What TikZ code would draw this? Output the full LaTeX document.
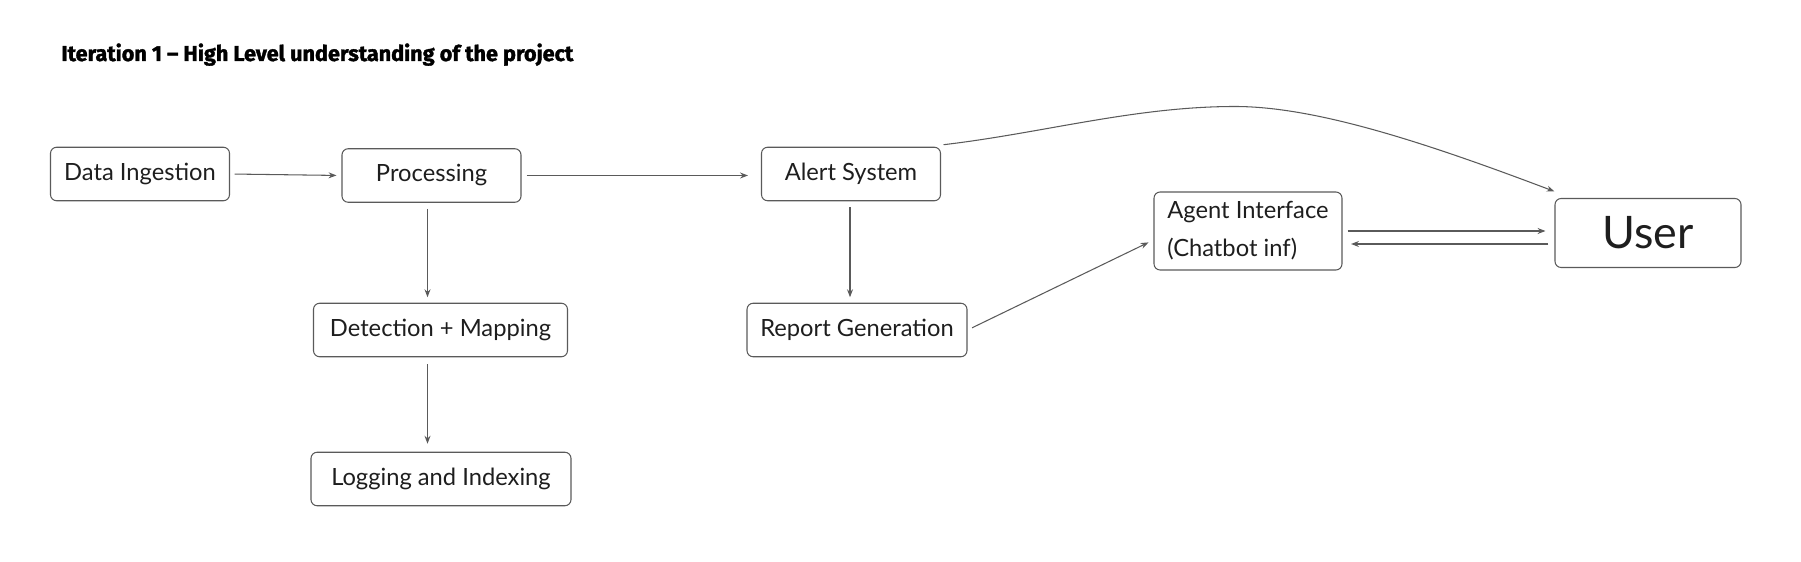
\documentclass[tikz,border=0pt]{standalone}
\usepackage{fontspec}
\setmainfont{Lato}
\newfontfamily\titlefont{Fira Sans}[BoldFeatures={FakeBold=1.6}]
\usepackage{tikz}
\usetikzlibrary{arrows.meta, calc}

\definecolor{inkgray}{HTML}{1E1E1E}
\definecolor{edgegray}{HTML}{5A5A5A}

\begin{document}
\begin{tikzpicture}[
    box/.style={rectangle, draw=edgegray, line width=0.6pt, rounded corners=3.5pt, minimum height=1.07cm, text=inkgray, font=\fontsize{13.5}{18}\selectfont},
    link/.style={-{Stealth[length=4.5pt, width=3.4pt]}, draw=edgegray, line width=0.6pt}
]
    \useasboundingbox (0,0) rectangle (36.02,-11.24);

    % title
    \node[anchor=base west, inner sep=0pt, text=black, font=\titlefont\bfseries\fontsize{12.3}{14}\selectfont] (title) at (1.22,-1.22) {Iteration 1 \textendash{} High Level understanding of the project};

    % pipeline
    \node[box, minimum width=3.58cm] (ingest) at (2.80,-3.48) {Data Ingestion};
    \node[box, minimum width=3.58cm] (proc) at (8.63,-3.51) {Processing};
    \node[box, minimum width=5.08cm] (detect) at (8.81,-6.60) {Detection + Mapping};
    \node[box, minimum width=5.20cm] (logidx) at (8.82,-9.58) {Logging and Indexing};

    % alerts and reports
    \node[box, minimum width=3.58cm] (alert) at (17.02,-3.48) {Alert System};
    \node[box, minimum width=4.40cm] (report) at (17.14,-6.60) {Report Generation};

    % agent and user
    \node[box, minimum width=3.76cm, minimum height=1.56cm, align=left, font=\fontsize{13.5}{21.5}\selectfont] (agent) at (24.96,-4.62) {Agent Interface\\(Chatbot inf)};
    \node[box, minimum width=3.72cm, minimum height=1.38cm, font=\fontsize{25.5}{30}\selectfont] (user) at (32.96,-4.66) {User};

    \draw[link, shorten <=0.09cm, shorten >=0.10cm] (ingest.east) -- (proc.west);
    \draw[link, shorten <=0.10cm, shorten >=0.26cm] (proc.east) -- (proc.east -| alert.west);
    \draw[link, shorten <=0.12cm, shorten >=0.11cm] ([xshift=-0.08cm]proc.south) -- ([xshift=-0.08cm]proc.south |- detect.north);
    \draw[link, shorten <=0.14cm, shorten >=0.16cm] ([xshift=-0.08cm]proc.south |- detect.south) -- ([xshift=-0.08cm]proc.south |- logidx.north);
    \draw[link, shorten <=0.12cm, shorten >=0.11cm] ([xshift=-0.02cm]alert.south) -- ([xshift=-0.02cm]alert.south |- report.north);
    \draw[link, shorten <=0.10cm, shorten >=0.11cm] (report.east) -- ([yshift=-0.18cm]agent.west);
    \draw[link, shorten <=0.10cm, shorten >=0.18cm] (agent.east) -- (agent.east -| user.west);
    \draw[link, shorten <=0.12cm, shorten >=0.17cm] ([yshift=-0.26cm]agent.east -| user.west) -- ([yshift=-0.26cm]agent.east);

    % alert goes straight to the user
    \coordinate (crest) at (24.70,-2.13);
    \draw[link] ([xshift=0.05cm, yshift=0.04cm]alert.north east) .. controls (20.86,-2.66) and (22.70,-2.13) .. (crest)
        .. controls (26.30,-2.13) and (28.48,-2.84) .. ([yshift=0.13cm]user.north west);
\end{tikzpicture}
\end{document}
